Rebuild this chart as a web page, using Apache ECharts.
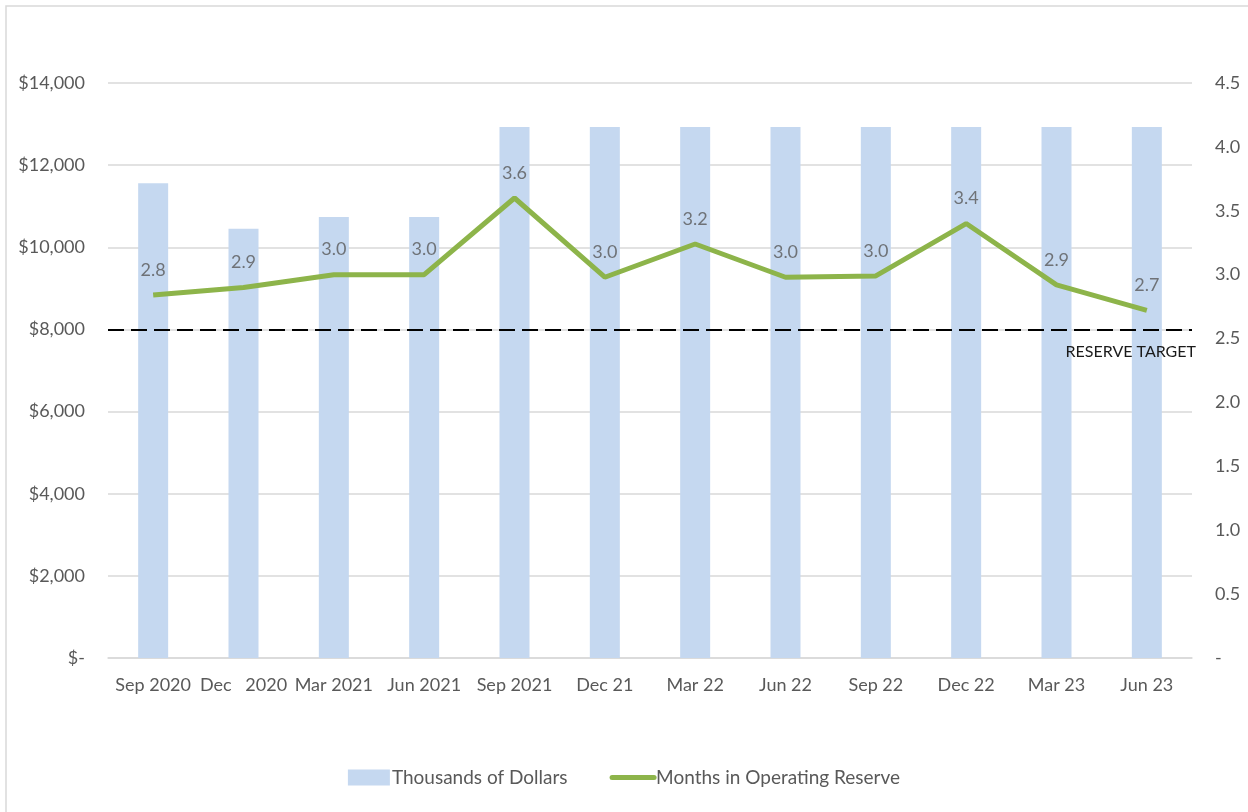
<!DOCTYPE html>
<html>
<head>
<meta charset="utf-8">
<script src="https://cdn.jsdelivr.net/npm/echarts@6/dist/echarts.min.js"></script>
<style>
html, body { margin: 0; padding: 0; background: #fff; }
#chart { width: 1248px; height: 812px; }
</style>
</head>
<body>
<div id="chart"></div>
<script>
const categories = ['Sep 2020', 'Dec   2020', 'Mar 2021', 'Jun 2021', 'Sep 2021', 'Dec 21', 'Mar 22', 'Jun 22', 'Sep 22', 'Dec 22', 'Mar 23', 'Jun 23'];
const dollars = [11560, 10450, 10740, 10740, 12930, 12930, 12930, 12930, 12930, 12930, 12930, 12930];
const months = [2.84, 2.90, 3.0, 3.0, 3.6, 2.98, 3.24, 2.98, 2.99, 3.4, 2.92, 2.72];
const reserveTarget = 8000;

const textColor = '#595959';
const green = '#8db44a';
const font = 'Lato, "Open Sans", sans-serif';

const chart = echarts.init(document.getElementById('chart'));
chart.setOption({
    animation: false,
    textStyle: { fontFamily: font },
    graphic: [{
        type: 'rect',
        shape: { x: 6, y: 6, width: 1260, height: 830 },
        style: { fill: 'none', stroke: '#d9d9d9', lineWidth: 1.5 },
        silent: true,
    }],
    grid: { left: 108, right: 56, top: 83, bottom: 154 },
    legend: {
        bottom: 20,
        left: 'center',
        itemGap: 42,
        itemWidth: 42,
        itemHeight: 16,
        textStyle: { color: textColor, fontSize: 19, fontFamily: font, padding: [0, 0, 0, -3] },
        data: [
            { name: 'Thousands of Dollars', icon: 'rect' },
            {
                name: 'Months in Operating Reserve',
                itemStyle: { opacity: 0 },
                lineStyle: { width: 5, cap: 'round' },
            },
        ],
    },
    xAxis: {
        type: 'category',
        data: categories,
        axisLine: { lineStyle: { color: '#d9d9d9', width: 1.5 } },
        axisTick: { show: false },
        axisLabel: { color: textColor, fontSize: 18, margin: 18, interval: 0 },
    },
    yAxis: [{
        type: 'value',
        min: 0,
        max: 14000,
        interval: 2000,
        splitLine: { lineStyle: { color: '#d9d9d9', width: 1.5 } },
        axisLine: { show: false },
        axisTick: { show: false },
        axisLabel: {
            color: textColor,
            fontSize: 18,
            margin: 23,
            formatter: v => v === 0 ? '$-' : '$' + v.toLocaleString('en-US'),
        },
    }, {
        type: 'value',
        min: 0,
        max: 4.5,
        interval: 0.5,
        splitLine: { show: false },
        axisLine: { show: false },
        axisTick: { show: false },
        axisLabel: {
            color: textColor,
            fontSize: 18,
            margin: 23,
            formatter: v => v === 0 ? '-' : v.toFixed(1),
        },
    }],
    series: [{
        name: 'Thousands of Dollars',
        type: 'bar',
        data: dollars,
        barWidth: 30,
        itemStyle: { color: '#c5d8f0' },
        markLine: {
            silent: true,
            symbol: 'none',
            lineStyle: { color: '#000', type: [16, 7], width: 2 },
            label: {
                position: 'insideEndBottom',
                formatter: 'RESERVE TARGET',
                color: '#1a1a1a',
                fontSize: 16,
                fontFamily: font,
                distance: [-4, 14],
            },
            data: [{ yAxis: reserveTarget }],
        },
    }, {
        name: 'Months in Operating Reserve',
        type: 'line',
        yAxisIndex: 1,
        data: months,
        symbol: 'none',
        lineStyle: { color: green, width: 5 },
        itemStyle: { color: green },
    }, {
        name: 'labels',
        type: 'scatter',
        yAxisIndex: 1,
        data: months,
        symbolSize: 0,
        silent: true,
        label: {
            show: true,
            position: 'top',
            distance: 16,
            color: textColor,
            fontSize: 18,
            formatter: p => p.value.toFixed(1),
        },
    }],
});
</script>
</body>
</html>
